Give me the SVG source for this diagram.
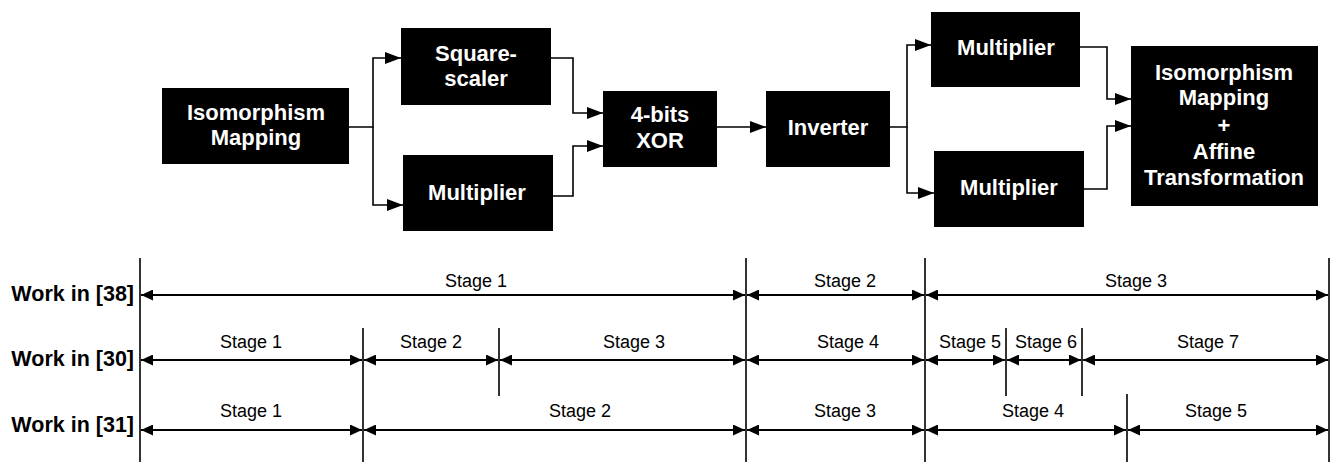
<svg xmlns="http://www.w3.org/2000/svg" width="1335" height="462" viewBox="0 0 1335 462">
  <style>
    .box { fill: #000; }
    .lbl { font-family: "Liberation Sans", Arial, sans-serif; font-weight: bold; font-size: 22px; fill: #fff; text-anchor: middle; }
    .row { font-family: "Liberation Sans", Arial, sans-serif; font-weight: bold; font-size: 21.5px; fill: #000; text-anchor: end; }
    .stage { font-family: "Liberation Sans", Arial, sans-serif; font-size: 18px; fill: #000; text-anchor: middle; }
    .wire { fill: none; stroke: #000; stroke-width: 1.6; }
    .tick { fill: none; stroke: #000; stroke-width: 1.6; }
    .span { fill: none; stroke: #000; stroke-width: 2; marker-start: url(#tl); marker-end: url(#tr); }
  </style>
  <defs>
    <marker id="flow" markerUnits="userSpaceOnUse" markerWidth="17" markerHeight="12" refX="16" refY="6" orient="auto">
      <path d="M0,0 L16,6 L0,12 z" fill="#000"/>
    </marker>
    <marker id="tr" markerUnits="userSpaceOnUse" markerWidth="13" markerHeight="11" refX="12" refY="5.5" orient="auto">
      <path d="M0,0 L12,5.5 L0,11 z" fill="#000"/>
    </marker>
    <marker id="tl" markerUnits="userSpaceOnUse" markerWidth="13" markerHeight="11" refX="0" refY="5.5" orient="auto">
      <path d="M12,0 L0,5.5 L12,11 z" fill="#000"/>
    </marker>
  </defs>

  <!-- datapath blocks -->
  <g id="iso-in">
    <rect class="box" x="162" y="88" width="187" height="76"/>
    <text class="lbl" x="256" y="120">Isomorphism</text>
    <text class="lbl" x="256" y="145">Mapping</text>
  </g>
  <g id="square-scaler">
    <rect class="box" x="401" y="28" width="150" height="77"/>
    <text class="lbl" x="476" y="61">Square-</text>
    <text class="lbl" x="476" y="86">scaler</text>
  </g>
  <g id="mult-1">
    <rect class="box" x="403" y="155" width="150" height="76"/>
    <text class="lbl" x="477" y="200">Multiplier</text>
  </g>
  <g id="xor">
    <rect class="box" x="603" y="91" width="114" height="76"/>
    <text class="lbl" x="660" y="122">4-bits</text>
    <text class="lbl" x="660" y="148">XOR</text>
  </g>
  <g id="inverter">
    <rect class="box" x="766" y="91" width="124" height="76"/>
    <text class="lbl" x="828" y="135">Inverter</text>
  </g>
  <g id="mult-2">
    <rect class="box" x="931" y="12" width="149" height="75"/>
    <text class="lbl" x="1006" y="55">Multiplier</text>
  </g>
  <g id="mult-3">
    <rect class="box" x="934" y="151" width="150" height="76"/>
    <text class="lbl" x="1009" y="195">Multiplier</text>
  </g>
  <g id="iso-out">
    <rect class="box" x="1131" y="46" width="187" height="160"/>
    <text class="lbl" x="1224" y="80">Isomorphism</text>
    <text class="lbl" x="1224" y="105">Mapping</text>
    <text class="lbl" x="1224" y="133">+</text>
    <text class="lbl" x="1224" y="159">Affine</text>
    <text class="lbl" x="1224" y="185">Transformation</text>
  </g>

  <!-- datapath wiring -->
  <g id="connectors">
    <path class="wire" d="M349,127 H373 V58 H401" marker-end="url(#flow)"/>
    <path class="wire" d="M373,127 V205 H403" marker-end="url(#flow)"/>
    <path class="wire" d="M551,58 H573 V113 H603" marker-end="url(#flow)"/>
    <path class="wire" d="M553,196 H573 V146 H603" marker-end="url(#flow)"/>
    <path class="wire" d="M717,127 H766" marker-end="url(#flow)"/>
    <path class="wire" d="M890,127 H907 V45 H931" marker-end="url(#flow)"/>
    <path class="wire" d="M907,127 V193 H934" marker-end="url(#flow)"/>
    <path class="wire" d="M1080,47 H1107 V99 H1131" marker-end="url(#flow)"/>
    <path class="wire" d="M1084,189 H1107 V126 H1131" marker-end="url(#flow)"/>
  </g>

  <!-- pipeline timing -->
  <g id="timeline">
    <text class="row" x="134" y="301">Work in [38]</text>
    <text class="row" x="134" y="366">Work in [30]</text>
    <text class="row" x="134" y="432">Work in [31]</text>

    <path class="tick" d="M140,258 V462 M746,258 V462 M925,258 V462 M1329,258 V462 M363,328 V462 M499,328 V396 M1006,328 V396 M1082,328 V396 M1127,394 V462"/>

    <line class="span" x1="141" y1="295" x2="745" y2="295"/>
    <line class="span" x1="747" y1="295" x2="924" y2="295"/>
    <line class="span" x1="926" y1="295" x2="1328" y2="295"/>
    <text class="stage" x="476" y="287">Stage 1</text>
    <text class="stage" x="845" y="287">Stage 2</text>
    <text class="stage" x="1136" y="287">Stage 3</text>

    <line class="span" x1="141" y1="360" x2="362" y2="360"/>
    <line class="span" x1="364" y1="360" x2="498" y2="360"/>
    <line class="span" x1="500" y1="360" x2="745" y2="360"/>
    <line class="span" x1="747" y1="360" x2="924" y2="360"/>
    <line class="span" x1="926" y1="360" x2="1005" y2="360"/>
    <line class="span" x1="1007" y1="360" x2="1081" y2="360"/>
    <line class="span" x1="1083" y1="360" x2="1328" y2="360"/>
    <text class="stage" x="251" y="348">Stage 1</text>
    <text class="stage" x="431" y="348">Stage 2</text>
    <text class="stage" x="634" y="348">Stage 3</text>
    <text class="stage" x="848" y="348">Stage 4</text>
    <text class="stage" x="970" y="348">Stage 5</text>
    <text class="stage" x="1046" y="348">Stage 6</text>
    <text class="stage" x="1208" y="348">Stage 7</text>

    <line class="span" x1="141" y1="430" x2="362" y2="430"/>
    <line class="span" x1="364" y1="430" x2="745" y2="430"/>
    <line class="span" x1="747" y1="430" x2="924" y2="430"/>
    <line class="span" x1="926" y1="430" x2="1126" y2="430"/>
    <line class="span" x1="1128" y1="430" x2="1328" y2="430"/>
    <text class="stage" x="251" y="417">Stage 1</text>
    <text class="stage" x="580" y="417">Stage 2</text>
    <text class="stage" x="845" y="417">Stage 3</text>
    <text class="stage" x="1033" y="417">Stage 4</text>
    <text class="stage" x="1216" y="417">Stage 5</text>
  </g>
</svg>
